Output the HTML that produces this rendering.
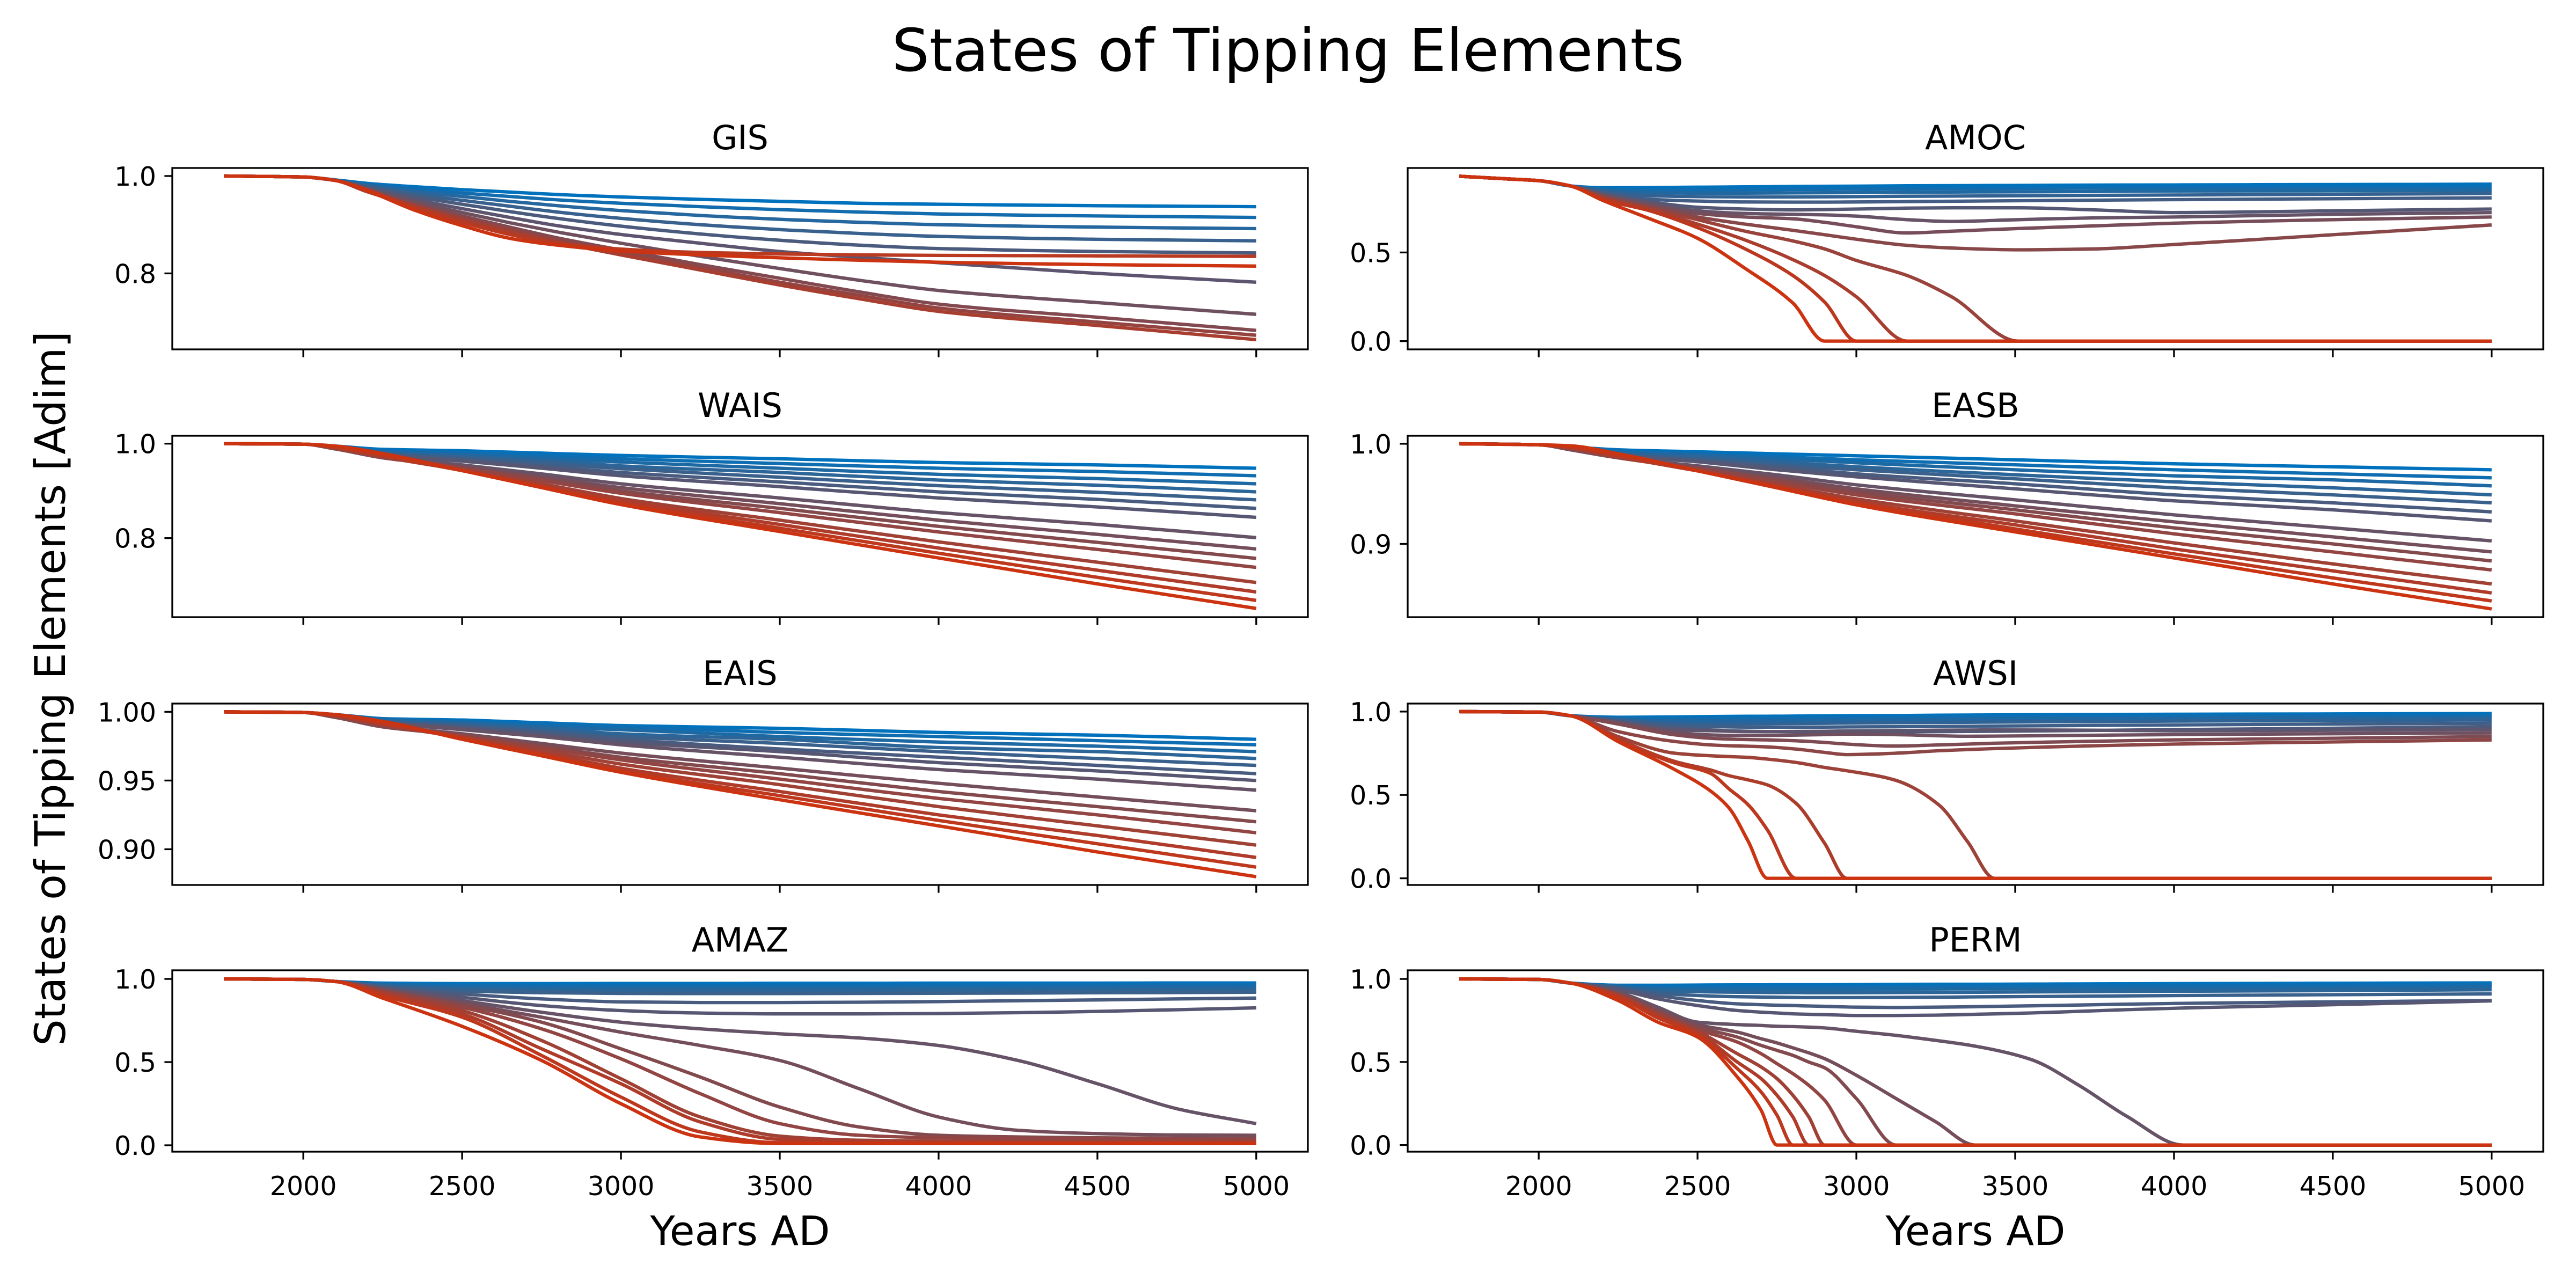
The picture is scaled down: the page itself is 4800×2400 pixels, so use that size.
<!DOCTYPE html>
<html><head><meta charset="utf-8"><title>States of Tipping Elements</title>
<style>
html,body{margin:0;padding:0;background:#fff;}
svg{display:block;font-family:"DejaVu Sans","Liberation Sans",sans-serif;}
</style></head>
<body>
<svg id="fig" xmlns="http://www.w3.org/2000/svg" width="4800" height="2400" viewBox="0 0 4800 2400">
<rect x="0" y="0" width="4800" height="2400" fill="#fff"/>
<text x="2400" y="132" font-size="110" text-anchor="middle">States of Tipping Elements</text>
<text transform="translate(121,1283) rotate(-90)" font-size="78" text-anchor="middle">States of Tipping Elements [Adim]</text>
<text x="1379" y="2320" font-size="76" text-anchor="middle">Years AD</text>
<text x="3681" y="2320" font-size="76" text-anchor="middle">Years AD</text>
<g id="panels"></g>
</svg>
<script>
// ---- data ----
const xTicks = [2000, 2500, 3000, 3500, 4000, 4500, 5000];
const xTickLabels = ["2000", "2500", "3000", "3500", "4000", "4500", "5000"];
const panelNames = ["GIS", "AMOC", "WAIS", "EASB", "EAIS", "AWSI", "AMAZ", "PERM"];

const gisYears = [1750,2000,2100,2200,2350,2500,2650,2800,3000,3250,3500,3750,4000,4500,5000];
const gisSeries = [
[1,.998,.992,.985,.978,.972,.967,.962,.957,.952,.948,.944,.942,.939,.937],
[1,.998,.992,.983,.973,.965,.958,.951,.944,.937,.931,.926,.922,.918,.915],
[1,.998,.991,.981,.968,.958,.948,.939,.929,.919,.911,.905,.900,.895,.892],
[1,.998,.991,.979,.963,.950,.938,.926,.913,.900,.890,.882,.876,.870,.867],
[1,.998,.991,.977,.958,.942,.927,.913,.897,.881,.868,.858,.851,.845,.842],
[1,.998,.991,.975,.952,.933,.915,.898,.880,.862,.845,.833,.822,.800,.782],
[1,.998,.991,.972,.947,.925,.904,.885,.862,.835,.810,.786,.765,.740,.716],
[1,.998,.991,.970,.942,.918,.895,.873,.848,.818,.790,.762,.737,.710,.683],
[1,.998,.991,.969,.940,.914,.890,.868,.842,.812,.782,.755,.729,.700,.673],
[1,.998,.991,.968,.938,.910,.886,.864,.838,.807,.776,.748,.722,.693,.664],
[1,.998,.991,.972,.935,.905,.880,.862,.850,.843,.840,.838,.837,.836,.835],
[1,.998,.991,.970,.930,.898,.872,.858,.846,.838,.832,.827,.823,.818,.815]];
const gisYTicks = [0.8, 1.0];
const gisYTickLabels = ["0.8", "1.0"];

const amocYears = [1750,1900,2000,2100,2200,2350,2500,2650,2800,2900,3000,3160,3300,3510,3750,4000,4500,5000];
const amocSeries = [
[.93,.915,.905,.875,.865,.866,.868,.870,.872,.873,.874,.876,.877,.878,.880,.881,.883,.885],
[.93,.915,.905,.875,.858,.852,.852,.853,.855,.856,.857,.859,.860,.861,.863,.864,.866,.868],
[.93,.915,.905,.875,.852,.838,.835,.835,.836,.837,.838,.840,.841,.842,.844,.846,.848,.850],
[.93,.915,.905,.875,.845,.820,.815,.813,.813,.814,.815,.817,.818,.820,.822,.824,.828,.832],
[.93,.915,.905,.875,.838,.800,.790,.785,.784,.784,.785,.787,.789,.792,.795,.798,.803,.808],
[.93,.915,.905,.875,.830,.785,.755,.745,.740,.742,.745,.750,.752,.752,.740,.725,.735,.745],
[.93,.915,.905,.875,.825,.775,.735,.720,.715,.712,.705,.685,.675,.685,.695,.700,.715,.725],
[.93,.915,.905,.875,.820,.765,.720,.700,.690,.670,.645,.610,.620,.635,.650,.665,.685,.700],
[.93,.915,.905,.875,.815,.755,.700,.660,.625,.600,.575,.540,.525,.515,.520,.545,.600,.655],
[.93,.915,.905,.875,.810,.750,.685,.620,.565,.520,.455,.370,.250,0,0,0,0,0],
[.93,.915,.905,.875,.805,.740,.660,.570,.460,.370,.250,0,0,0,0,0,0,0],
[.93,.915,.905,.875,.800,.735,.640,.520,.370,.220,0,0,0,0,0,0,0,0],
[.93,.915,.905,.875,.795,.690,.580,.410,.215,0,0,0,0,0,0,0,0,0]];
const amocYTicks = [0.0, 0.5];
const amocYTickLabels = ["0.0", "0.5"];

const waisYears = [1750,2000,2100,2250,2500,2750,3000,3500,4000,4500,5000];
const waisSeries = [
[1,.999,.995,.988,.985,.980,.975,.968,.960,.955,.948],
[1,.999,.994,.985,.981,.975,.968,.958,.948,.941,.932],
[1,.999,.993,.982,.977,.969,.961,.948,.935,.926,.915],
[1,.999,.992,.980,.973,.964,.953,.939,.923,.912,.898],
[1,.999,.991,.978,.970,.959,.947,.929,.911,.897,.881],
[1,.999,.990,.977,.966,.953,.939,.919,.898,.882,.863],
[1,.999,.990,.975,.963,.948,.932,.909,.885,.866,.844],
[1,.999,.989,.971,.955,.936,.915,.885,.854,.829,.801],
[1,.999,.989,.970,.951,.930,.907,.873,.838,.808,.777],
[1,.999,.989,.971,.949,.925,.900,.863,.825,.791,.757],
[1,.999,.990,.971,.948,.922,.895,.854,.813,.776,.738],
[1,.999,.991,.972,.944,.915,.884,.838,.792,.749,.706],
[1,.999,.992,.974,.943,.911,.879,.829,.779,.732,.686],
[1,.999,.993,.976,.943,.909,.874,.821,.768,.717,.668],
[1,.999,.995,.979,.943,.907,.871,.814,.758,.703,.651]];
const waisYTicks = [0.8, 1.0];
const waisYTickLabels = ["0.8", "1.0"];

const easbYears = [1750,2000,2100,2250,2500,2750,3000,3500,4000,4500,5000];
const easbSeries = [
[1,.999,.997,.994,.992,.990,.988,.984,.980,.977,.974],
[1,.999,.997,.993,.990,.987,.984,.979,.974,.970,.966],
[1,.999,.996,.991,.989,.985,.981,.974,.968,.964,.958],
[1,.999,.996,.990,.987,.982,.977,.969,.962,.956,.949],
[1,.999,.996,.989,.985,.979,.974,.965,.956,.949,.941],
[1,.999,.995,.988,.983,.977,.970,.960,.949,.941,.932],
[1,.999,.995,.988,.982,.974,.967,.955,.943,.934,.923],
[1,.999,.994,.986,.978,.969,.959,.944,.929,.916,.903],
[1,.999,.994,.986,.976,.966,.955,.938,.922,.907,.892],
[1,.999,.995,.986,.976,.964,.952,.934,.916,.900,.883],
[1,.999,.995,.986,.975,.962,.949,.930,.910,.892,.874],
[1,.999,.996,.987,.973,.959,.945,.923,.901,.880,.860],
[1,.999,.996,.987,.973,.958,.942,.919,.895,.873,.851],
[1,.999,.997,.989,.973,.957,.941,.915,.890,.866,.843],
[1,.999,.998,.990,.973,.956,.939,.912,.886,.860,.835]];
const easbYTicks = [0.9, 1.0];
const easbYTickLabels = ["0.9", "1.0"];

const eaisYears = [1750,2000,2100,2250,2500,2750,3000,3500,4000,4500,5000];
const eaisSeries = [
[1,.9995,.998,.995,.994,.992,.990,.988,.985,.983,.980],
[1,.9995,.998,.995,.993,.991,.989,.985,.982,.979,.976],
[1,.9995,.997,.994,.992,.989,.987,.982,.978,.975,.971],
[1,.9995,.997,.993,.991,.988,.984,.980,.974,.971,.966],
[1,.9995,.997,.993,.990,.986,.982,.977,.971,.966,.961],
[1,.9995,.997,.992,.989,.985,.980,.973,.967,.961,.955],
[1,.9995,.997,.992,.988,.983,.978,.971,.963,.957,.950],
[1,.9995,.997,.992,.987,.982,.976,.967,.958,.951,.943],
[1,.9995,.996,.990,.984,.977,.970,.959,.948,.938,.928],
[1,.9995,.996,.989,.983,.975,.967,.955,.942,.931,.920],
[1,.9995,.997,.990,.982,.974,.965,.951,.937,.925,.912],
[1,.9995,.997,.991,.982,.972,.962,.947,.931,.917,.903],
[1,.9995,.997,.991,.981,.970,.959,.942,.925,.910,.894],
[1,.9995,.998,.992,.981,.969,.957,.939,.921,.904,.887],
[1,.9995,.998,.993,.980,.968,.956,.936,.917,.898,.880]];
const eaisYTicks = [0.90, 0.95, 1.00];
const eaisYTickLabels = ["0.90", "0.95", "1.00"];

const awsiYears = [1750,2000,2100,2250,2430,2540,2600,2660,2720,2810,2900,2970,3120,3260,3350,3435,3750,4000,4500,5000];
const awsiSeries = [
[1,.997,.975,.966,.968,.970,.971,.972,.972,.973,.974,.975,.976,.978,.979,.980,.982,.984,.986,.988],
[1,.997,.975,.960,.958,.958,.959,.959,.960,.961,.962,.963,.964,.966,.967,.968,.970,.972,.975,.977],
[1,.997,.975,.955,.945,.944,.944,.945,.945,.946,.947,.948,.950,.952,.953,.954,.957,.959,.962,.965],
[1,.997,.975,.950,.930,.927,.927,.927,.928,.929,.930,.931,.933,.935,.936,.937,.940,.943,.946,.950],
[1,.997,.975,.945,.915,.910,.908,.907,.907,.907,.907,.908,.909,.911,.912,.913,.917,.920,.925,.930],
[1,.997,.975,.940,.900,.890,.885,.882,.880,.879,.878,.878,.879,.880,.881,.882,.887,.892,.900,.910],
[1,.997,.975,.935,.890,.885,.882,.880,.880,.881,.882,.884,.886,.888,.889,.890,.888,.884,.888,.893],
[1,.997,.975,.930,.875,.860,.857,.856,.857,.859,.862,.865,.862,.855,.852,.853,.858,.862,.867,.872],
[1,.997,.975,.925,.860,.840,.835,.832,.830,.825,.815,.805,.793,.800,.805,.810,.822,.830,.840,.850],
[1,.997,.975,.880,.820,.800,.795,.792,.788,.775,.755,.742,.750,.765,.772,.778,.795,.805,.818,.830],
[1,.997,.975,.850,.750,.735,.730,.725,.715,.695,.665,.645,.590,.440,.220,0,0,0,0,0],
[1,.997,.975,.835,.700,.650,.615,.590,.560,.450,.210,0,0,0,0,0,0,0,0,0],
[1,.997,.975,.828,.690,.630,.535,.440,.290,0,0,0,0,0,0,0,0,0,0,0],
[1,.997,.975,.820,.650,.525,.420,.220,0,0,0,0,0,0,0,0,0,0,0,0]];
const awsiYTicks = [0.0, 0.5, 1.0];
const awsiYTickLabels = ["0.0", "0.5", "1.0"];

const amazYears = [1750,2000,2100,2250,2500,2750,3000,3250,3500,3750,4000,4250,4500,4750,5000];
const amazSeries = [
[1,.997,.985,.975,.972,.972,.973,.973,.974,.974,.975,.975,.975,.976,.976],
[1,.997,.985,.970,.962,.960,.960,.961,.961,.962,.963,.963,.964,.964,.965],
[1,.997,.985,.965,.952,.948,.947,.947,.948,.948,.949,.950,.951,.952,.953],
[1,.997,.985,.960,.940,.933,.931,.931,.931,.932,.933,.934,.935,.936,.937],
[1,.997,.985,.955,.928,.917,.913,.912,.912,.913,.914,.915,.917,.918,.920],
[1,.997,.985,.950,.910,.880,.862,.858,.858,.860,.864,.869,.874,.880,.885],
[1,.997,.985,.945,.890,.840,.810,.795,.790,.790,.792,.797,.805,.815,.826],
[1,.997,.985,.940,.870,.800,.740,.700,.670,.645,.600,.510,.370,.220,.130],
[1,.997,.985,.935,.855,.770,.680,.600,.510,.340,.170,.090,.070,.062,.060],
[1,.997,.985,.930,.845,.740,.580,.410,.230,.110,.060,.050,.045,.042,.040],
[1,.997,.985,.925,.830,.700,.520,.310,.130,.060,.045,.040,.038,.036,.035],
[1,.997,.985,.920,.810,.630,.400,.170,.055,.030,.025,.022,.021,.020,.020],
[1,.997,.985,.910,.790,.580,.370,.140,.035,.020,.017,.016,.015,.015,.015],
[1,.997,.985,.900,.770,.540,.290,.080,.015,.012,.011,.010,.010,.010,.010],
[1,.997,.985,.885,.715,.510,.250,.050,.010,.010,.010,.010,.010,.010,.010]];
const amazYTicks = [0.0, 0.5, 1.0];
const amazYTickLabels = ["0.0", "0.5", "1.0"];

const permYears = [1750,2000,2100,2250,2375,2500,2625,2700,2750,2800,2850,2900,3000,3125,3250,3375,3550,3700,3850,4030,4500,5000];
const permSeries = [
[1,.997,.975,.962,.962,.963,.964,.964,.965,.965,.965,.965,.966,.967,.968,.968,.969,.970,.971,.972,.974,.976],
[1,.997,.975,.958,.952,.951,.951,.952,.952,.952,.952,.953,.953,.954,.955,.956,.957,.958,.959,.960,.962,.965],
[1,.997,.975,.954,.942,.938,.937,.937,.937,.937,.937,.938,.938,.939,.940,.941,.942,.943,.944,.945,.948,.952],
[1,.997,.975,.950,.930,.923,.920,.919,.918,.918,.917,.917,.917,.918,.919,.920,.922,.923,.925,.926,.930,.935],
[1,.997,.975,.946,.915,.900,.893,.891,.890,.889,.888,.888,.888,.889,.890,.892,.894,.896,.898,.900,.905,.910],
[1,.997,.975,.942,.900,.870,.850,.845,.842,.840,.837,.835,.830,.828,.830,.833,.838,.843,.848,.853,.862,.870],
[1,.997,.975,.935,.880,.840,.810,.800,.795,.790,.787,.785,.780,.780,.782,.787,.795,.805,.815,.825,.845,.868],
[1,.997,.975,.920,.830,.740,.725,.720,.715,.713,.710,.705,.685,.660,.630,.595,.515,.360,.175,0,0,0],
[1,.997,.975,.915,.815,.725,.680,.640,.615,.585,.555,.520,.420,.280,.140,0,0,0,0,0,0,0],
[1,.997,.975,.910,.805,.710,.650,.600,.570,.540,.500,.465,.280,0,0,0,0,0,0,0,0,0],
[1,.997,.975,.905,.795,.695,.620,.550,.490,.430,.360,.270,0,0,0,0,0,0,0,0,0,0],
[1,.997,.975,.900,.785,.685,.550,.470,.400,.300,.170,0,0,0,0,0,0,0,0,0,0,0],
[1,.997,.975,.895,.775,.675,.500,.400,.300,.170,0,0,0,0,0,0,0,0,0,0,0,0],
[1,.997,.975,.890,.765,.665,.460,.320,.180,0,0,0,0,0,0,0,0,0,0,0,0,0],
[1,.997,.975,.870,.740,.650,.410,.210,0,0,0,0,0,0,0,0,0,0,0,0,0,0]];
const permYTicks = [0.0, 0.5, 1.0];
const permYTickLabels = ["0.0", "0.5", "1.0"];

const yLimits = [[0.644,1.0165],[-0.0465,0.9765],[0.6326,1.0167],[0.8268,1.008],[0.874,1.006],[-0.04,1.048],[-0.0386,1.052],[-0.04,1.052]];
const xLimit = [1587.5, 5162.5];

// ---- layout ----
const NS = "http://www.w3.org/2000/svg";
const colX = [[321, 2437], [2623, 4739]];
const rowY = [313, 812, 1311, 1808];
const axH = 338;
const blue = [0, 114, 189], red = [204, 51, 17];

const panelYears = [gisYears, amocYears, waisYears, easbYears, eaisYears, awsiYears, amazYears, permYears];
const panelSeries = [gisSeries, amocSeries, waisSeries, easbSeries, eaisSeries, awsiSeries, amazSeries, permSeries];
const panelYTicks = [gisYTicks, amocYTicks, waisYTicks, easbYTicks, eaisYTicks, awsiYTicks, amazYTicks, permYTicks];
const panelYTickLabels = [gisYTickLabels, amocYTickLabels, waisYTickLabels, easbYTickLabels, eaisYTickLabels, awsiYTickLabels, amazYTickLabels, permYTickLabels];

function mk(tag, attrs, parent) {
  const e = document.createElementNS(NS, tag);
  for (const k in attrs) e.setAttribute(k, attrs[k]);
  parent.appendChild(e);
  return e;
}
function monoPath(px, py) {
  const n = px.length, d = [], m = new Array(n);
  for (let i = 0; i < n - 1; i++) d.push((py[i+1]-py[i])/(px[i+1]-px[i]));
  m[0] = d[0]; m[n-1] = d[n-2];
  for (let i = 1; i < n - 1; i++) {
    if (d[i-1]*d[i] <= 0) m[i] = 0;
    else { const h0 = px[i]-px[i-1], h1 = px[i+1]-px[i];
      const w1 = 2*h1+h0, w2 = h1+2*h0; m[i] = (w1+w2)/(w1/d[i-1]+w2/d[i]); }
  }
  let s = "M" + px[0].toFixed(1) + "," + py[0].toFixed(1);
  for (let i = 0; i < n - 1; i++) {
    const h = px[i+1]-px[i];
    s += " C" + (px[i]+h/3).toFixed(1) + "," + (py[i]+m[i]*h/3).toFixed(1) + " " +
         (px[i+1]-h/3).toFixed(1) + "," + (py[i+1]-m[i+1]*h/3).toFixed(1) + " " +
         px[i+1].toFixed(1) + "," + py[i+1].toFixed(1);
  }
  return s;
}

const root = document.getElementById("panels");
for (let p = 0; p < 8; p++) {
  const col = p % 2, row = Math.floor(p / 2);
  const x0 = colX[col][0], x1 = colX[col][1], y0 = rowY[row], y1 = y0 + axH;
  const yl = yLimits[p];
  const sx = v => x0 + (v - xLimit[0]) / (xLimit[1] - xLimit[0]) * (x1 - x0);
  const sy = v => y1 - (v - yl[0]) / (yl[1] - yl[0]) * (y1 - y0);
  const g = mk("g", {}, root);
  
  

  const title = mk("text", {x: (x0+x1)/2, y: y0 - 35, "font-size": 62, "text-anchor": "middle"}, g);
  title.textContent = panelNames[p];
  
  

  const yrs = panelYears[p], ser = panelSeries[p], n = ser.length;
  const lines = mk("g", {fill: "none", "stroke-width": 6.3, "stroke-linejoin": "round", "stroke-linecap": "butt"}, g);
  
  
  for (let i = 0; i < n; i++) {
    const t = n > 1 ? i / (n - 1) : 0;
    const c = blue.map((b, k) => Math.round(b + (red[k] - b) * t));
    const px = yrs.map(sx), py = ser[i].map(sy);
    const path = mk("path", {d: monoPath(px, py), stroke: "rgb(" + c.join(",") + ")"}, lines);
    
    
  }

  const frame = mk("rect", {x: x0, y: y0, width: x1 - x0, height: y1 - y0, fill: "none", stroke: "#000", "stroke-width": 3.3}, g);
  
  

  for (let k = 0; k < xTicks.length; k++) {
    const x = sx(xTicks[k]);
    const tk = mk("line", {x1: x, x2: x, y1: y1, y2: y1 + 14.6, stroke: "#000", "stroke-width": 3.3}, g);
    
    
    if (row === 3) {
      const lb = mk("text", {x: x, y: y1 + 81, "font-size": 49, "text-anchor": "middle"}, g);
      lb.textContent = xTickLabels[k];
      
      
    }
  }
  const yt = panelYTicks[p], ytl = panelYTickLabels[p];
  for (let k = 0; k < yt.length; k++) {
    const y = sy(yt[k]);
    const tk = mk("line", {x1: x0 - 14.6, x2: x0, y1: y, y2: y, stroke: "#000", "stroke-width": 3.3}, g);
    
    
    const lb = mk("text", {x: x0 - 30, y: y + 18, "font-size": 49, "text-anchor": "end"}, g);
    lb.textContent = ytl[k];
    
    
  }
}
</script>
</body></html>
